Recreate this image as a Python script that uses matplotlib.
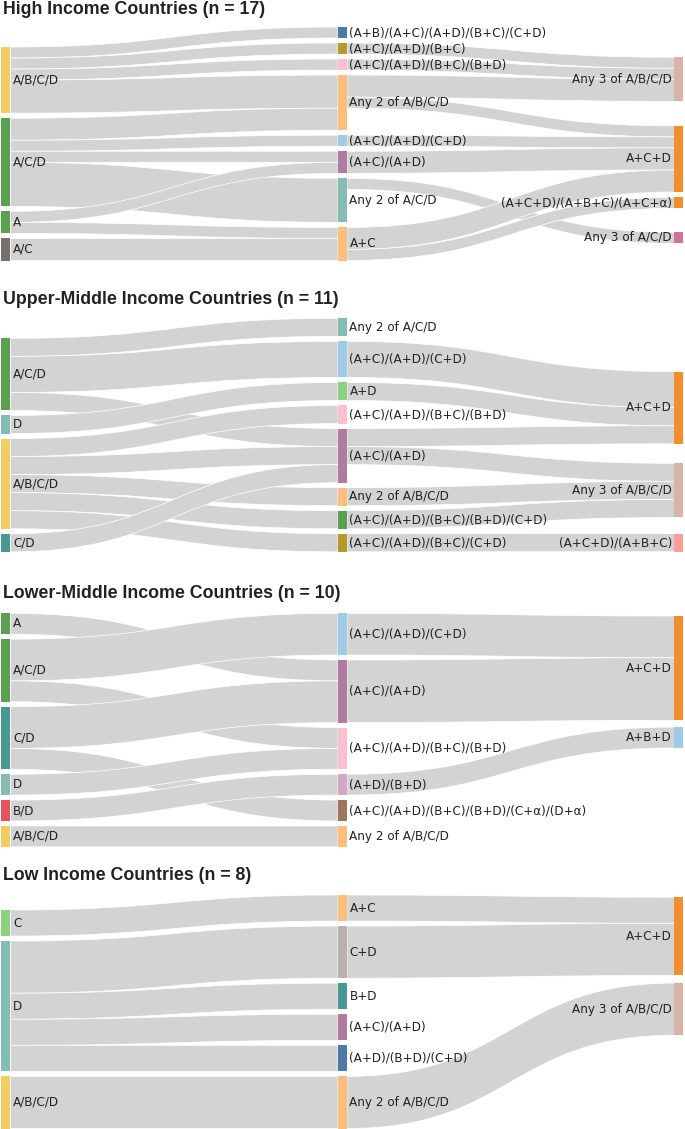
import matplotlib
matplotlib.use("Agg")
import matplotlib.pyplot as plt
from matplotlib.path import Path
from matplotlib.patches import PathPatch, Rectangle

# ------------------------------------------------------------------ data
titles = ["High Income Countries (n = 17)",
          "Upper-Middle Income Countries (n = 11)",
          "Lower-Middle Income Countries (n = 10)",
          "Low Income Countries (n = 8)"]

# --- High income
hi_left = ["A/B/C/D", "A/C/D", "A", "A/C"]
hi_mid = ["(A+B)/(A+C)/(A+D)/(B+C)/(C+D)", "(A+C)/(A+D)/(B+C)",
          "(A+C)/(A+D)/(B+C)/(B+D)", "Any 2 of A/B/C/D", "(A+C)/(A+D)/(C+D)",
          "(A+C)/(A+D)", "Any 2 of A/C/D", "A+C"]
hi_right = ["Any 3 of A/B/C/D", "A+C+D", "(A+C+D)/(A+B+C)/(A+C+α)", "Any 3 of A/C/D"]
hi_lm_src = ["A/B/C/D", "A/B/C/D", "A/B/C/D", "A/B/C/D", "A/C/D", "A/C/D", "A/C/D",
             "A/C/D", "A", "A", "A/C"]
hi_lm_tgt = ["(A+B)/(A+C)/(A+D)/(B+C)/(C+D)", "(A+C)/(A+D)/(B+C)",
             "(A+C)/(A+D)/(B+C)/(B+D)", "Any 2 of A/B/C/D", "Any 2 of A/B/C/D",
             "(A+C)/(A+D)/(C+D)", "(A+C)/(A+D)", "Any 2 of A/C/D", "(A+C)/(A+D)",
             "A+C", "A+C"]
hi_lm_val = [1, 1, 1, 3, 2, 1, 1, 4, 1, 1, 2]
hi_mr_src = ["(A+C)/(A+D)/(B+C)", "(A+C)/(A+D)/(B+C)/(B+D)", "Any 2 of A/B/C/D",
             "Any 2 of A/B/C/D", "(A+C)/(A+D)/(C+D)", "(A+C)/(A+D)", "Any 2 of A/C/D",
             "A+C", "A+C"]
hi_mr_tgt = ["Any 3 of A/B/C/D", "Any 3 of A/B/C/D", "Any 3 of A/B/C/D", "A+C+D",
             "A+C+D", "A+C+D", "Any 3 of A/C/D", "A+C+D", "(A+C+D)/(A+B+C)/(A+C+α)"]
hi_mr_val = [1, 1, 2, 1, 1, 2, 1, 2, 1]

# --- Upper-middle income
um_left = ["A/C/D", "D", "A/B/C/D", "C/D"]
um_mid = ["Any 2 of A/C/D", "(A+C)/(A+D)/(C+D)", "A+D", "(A+C)/(A+D)/(B+C)/(B+D)",
          "(A+C)/(A+D)", "Any 2 of A/B/C/D", "(A+C)/(A+D)/(B+C)/(B+D)/(C+D)",
          "(A+C)/(A+D)/(B+C)/(C+D)"]
um_right = ["A+C+D", "Any 3 of A/B/C/D", "(A+C+D)/(A+B+C)"]
um_lm_src = ["A/C/D", "A/C/D", "A/C/D", "D", "A/B/C/D", "A/B/C/D", "A/B/C/D",
             "A/B/C/D", "A/B/C/D", "C/D"]
um_lm_tgt = ["Any 2 of A/C/D", "(A+C)/(A+D)/(C+D)", "(A+C)/(A+D)", "A+D",
             "(A+C)/(A+D)/(B+C)/(B+D)", "(A+C)/(A+D)", "Any 2 of A/B/C/D",
             "(A+C)/(A+D)/(B+C)/(B+D)/(C+D)", "(A+C)/(A+D)/(B+C)/(C+D)", "(A+C)/(A+D)"]
um_lm_val = [1, 2, 1, 1, 1, 1, 1, 1, 1, 1]
um_mr_src = ["(A+C)/(A+D)/(C+D)", "A+D", "(A+C)/(A+D)", "(A+C)/(A+D)",
             "Any 2 of A/B/C/D", "(A+C)/(A+D)/(B+C)/(B+D)/(C+D)", "(A+C)/(A+D)/(B+C)/(C+D)"]
um_mr_tgt = ["A+C+D", "A+C+D", "A+C+D", "Any 3 of A/B/C/D", "Any 3 of A/B/C/D",
             "Any 3 of A/B/C/D", "(A+C+D)/(A+B+C)"]
um_mr_val = [2, 1, 1, 1, 1, 1, 1]

# --- Lower-middle income
lm_left = ["A", "A/C/D", "C/D", "D", "B/D", "A/B/C/D"]
lm_mid = ["(A+C)/(A+D)/(C+D)", "(A+C)/(A+D)", "(A+C)/(A+D)/(B+C)/(B+D)", "(A+D)/(B+D)",
          "(A+C)/(A+D)/(B+C)/(B+D)/(C+α)/(D+α)", "Any 2 of A/B/C/D"]
lm_right = ["A+C+D", "A+B+D"]
lm_lm_src = ["A", "A/C/D", "A/C/D", "C/D", "C/D", "D", "B/D", "A/B/C/D"]
lm_lm_tgt = ["(A+C)/(A+D)", "(A+C)/(A+D)/(C+D)", "(A+C)/(A+D)/(B+C)/(B+D)", "(A+C)/(A+D)",
             "(A+C)/(A+D)/(B+C)/(B+D)/(C+α)/(D+α)", "(A+C)/(A+D)/(B+C)/(B+D)",
             "(A+D)/(B+D)", "Any 2 of A/B/C/D"]
lm_lm_val = [1, 2, 1, 2, 1, 1, 1, 1]
lm_mr_src = ["(A+C)/(A+D)/(C+D)", "(A+C)/(A+D)", "(A+D)/(B+D)"]
lm_mr_tgt = ["A+C+D", "A+C+D", "A+B+D"]
lm_mr_val = [2, 3, 1]

# --- Low income
lo_left = ["C", "D", "A/B/C/D"]
lo_mid = ["A+C", "C+D", "B+D", "(A+C)/(A+D)", "(A+D)/(B+D)/(C+D)", "Any 2 of A/B/C/D"]
lo_right = ["A+C+D", "Any 3 of A/B/C/D"]
lo_lm_src = ["C", "D", "D", "D", "D", "A/B/C/D"]
lo_lm_tgt = ["A+C", "C+D", "B+D", "(A+C)/(A+D)", "(A+D)/(B+D)/(C+D)", "Any 2 of A/B/C/D"]
lo_lm_val = [1, 2, 1, 1, 1, 2]
lo_mr_src = ["A+C", "C+D", "Any 2 of A/B/C/D"]
lo_mr_tgt = ["A+C+D", "A+C+D", "Any 3 of A/B/C/D"]
lo_mr_val = [1, 2, 2]

# ------------------------------------------------------------------ style
T = {"blue": "#4E79A7", "lblue": "#A0CBE8", "orange": "#F28E2B", "lorange": "#FFBE7D",
     "green": "#59A14F", "lgreen": "#8CD17D", "olive": "#B6992D", "yellow": "#F1CE63",
     "teal": "#499894", "lteal": "#86BCB6", "red": "#E15759", "lred": "#FF9D9A",
     "grey": "#79706E", "lgrey": "#BAB0AC", "pink": "#D37295", "lpink": "#FABFD2",
     "purple": "#B07AA1", "lpurple": "#D4A6C8", "brown": "#9D7660", "lbrown": "#D7B5A6"}

hi_colors = [[T["yellow"], T["green"], T["green"], T["grey"]],
             [T["blue"], T["olive"], T["lpink"], T["lorange"], T["lblue"], T["purple"],
              T["lteal"], T["lorange"]],
             [T["lbrown"], T["orange"], T["orange"], T["pink"]]]
um_colors = [[T["green"], T["lteal"], T["yellow"], T["teal"]],
             [T["lteal"], T["lblue"], T["lgreen"], T["lpink"], T["purple"], T["lorange"],
              T["green"], T["olive"]],
             [T["orange"], T["lbrown"], T["lred"]]]
lm_colors = [[T["green"], T["green"], T["teal"], T["lteal"], T["red"], T["yellow"]],
             [T["lblue"], T["purple"], T["lpink"], T["lpurple"], T["brown"], T["lorange"]],
             [T["orange"], T["lblue"]]]
lo_colors = [[T["lgreen"], T["lteal"], T["yellow"]],
             [T["lorange"], T["lgrey"], T["teal"], T["purple"], T["blue"], T["lorange"]],
             [T["orange"], T["lbrown"]]]

# right-column node centres as fraction of the panel height (fixed arrangement)
hi_right_y = [0.224, 0.565, 0.753, 0.903]
um_right_y = [0.383, 0.737, 0.961]
lm_right_y = [0.235, 0.532]
lo_right_y = [0.177, 0.489]

panel_tops = [27.0, 318.3, 613.3, 895.0]
title_ys = [9.5, 299.0, 593.0, 875.5]
PANEL_H = 233.5
GAP = 5.0
NODE_W = 9.0
COL_X = [1.5, 338.0, 674.5]
LINK_COLOR = "#d3d3d3"
TEXT_COLOR = "#222222"
LABEL_FS = 8.64
TITLE_FS = 12.8

W, HF = 685, 1129
fig = plt.figure(figsize=(W / 100, HF / 100), dpi=100)
ax = fig.add_axes([0, 0, 1, 1])
ax.set_xlim(0, W)
ax.set_ylim(HF, 0)
ax.axis("off")


def draw_panel(top, title_y, title, cols, colors, right_y, lm, mr):
    flows = []
    for s, t, v in zip(*lm):
        flows.append(((0, s), (1, t), v))
    for s, t, v in zip(*mr):
        flows.append(((1, s), (2, t), v))
    vin, vout = {}, {}
    for s, t, v in flows:
        vout[s] = vout.get(s, 0) + v
        vin[t] = vin.get(t, 0) + v
    val = {}
    for c, names in enumerate(cols):
        for n in names:
            val[(c, n)] = max(vin.get((c, n), 0), vout.get((c, n), 0))
    u = min((PANEL_H - (len(names) - 1) * GAP) / sum(val[(c, n)] for n in names)
            for c, names in enumerate(cols))
    y0 = {}
    for c, names in enumerate(cols):
        if c < 2:
            tot = sum(val[(c, n)] * u for n in names) + (len(names) - 1) * GAP
            y = top + PANEL_H - tot
            for n in names:
                y0[(c, n)] = y
                y += val[(c, n)] * u + GAP
        else:
            for n, f in zip(names, right_y):
                y0[(c, n)] = top + f * PANEL_H - val[(c, n)] * u / 2
    # link offsets
    out_off = {k: y0[k] for k in y0}
    in_off = {k: y0[k] for k in y0}
    link_pos = {}
    for k in y0:
        outs = sorted([i for i, f in enumerate(flows) if f[0] == k], key=lambda i: y0[flows[i][1]])
        for i in outs:
            link_pos.setdefault(i, {})["s"] = out_off[k]
            out_off[k] += flows[i][2] * u
        ins = sorted([i for i, f in enumerate(flows) if f[1] == k], key=lambda i: y0[flows[i][0]])
        for i in ins:
            link_pos.setdefault(i, {})["t"] = in_off[k]
            in_off[k] += flows[i][2] * u
    for i, (s, t, v) in enumerate(flows):
        xs = COL_X[s[0]] + NODE_W
        xt = COL_X[t[0]]
        xm = (xs + xt) / 2
        sy, ty = link_pos[i]["s"], link_pos[i]["t"]
        h = v * u
        verts = [(xs, sy), (xm, sy), (xm, ty), (xt, ty), (xt, ty + h),
                 (xm, ty + h), (xm, sy + h), (xs, sy + h), (xs, sy)]
        codes = [Path.MOVETO, Path.CURVE4, Path.CURVE4, Path.CURVE4, Path.LINETO,
                 Path.CURVE4, Path.CURVE4, Path.CURVE4, Path.CLOSEPOLY]
        ax.add_patch(PathPatch(Path(verts, codes), facecolor=LINK_COLOR,
                               edgecolor="white", lw=0.5, zorder=1))
    for c, names in enumerate(cols):
        for n, col in zip(names, colors[c]):
            h = val[(c, n)] * u
            ax.add_patch(Rectangle((COL_X[c], y0[(c, n)]), NODE_W, h, facecolor=col,
                                   edgecolor="none", zorder=3))
            yc = y0[(c, n)] + h / 2
            if c < 2:
                ax.text(COL_X[c] + NODE_W + 2.5, yc, n, ha="left", va="center",
                        fontsize=LABEL_FS, color=TEXT_COLOR, family="DejaVu Sans", zorder=4)
            else:
                ax.text(COL_X[c] - 2.5, yc, n, ha="right", va="center",
                        fontsize=LABEL_FS, color=TEXT_COLOR, family="DejaVu Sans", zorder=4)
    ax.text(3, title_y, title, ha="left", va="center", fontsize=TITLE_FS,
            fontweight="bold", family="Liberation Sans", color=TEXT_COLOR)


panels = [
    ([hi_left, hi_mid, hi_right], hi_colors, hi_right_y,
     (hi_lm_src, hi_lm_tgt, hi_lm_val), (hi_mr_src, hi_mr_tgt, hi_mr_val)),
    ([um_left, um_mid, um_right], um_colors, um_right_y,
     (um_lm_src, um_lm_tgt, um_lm_val), (um_mr_src, um_mr_tgt, um_mr_val)),
    ([lm_left, lm_mid, lm_right], lm_colors, lm_right_y,
     (lm_lm_src, lm_lm_tgt, lm_lm_val), (lm_mr_src, lm_mr_tgt, lm_mr_val)),
    ([lo_left, lo_mid, lo_right], lo_colors, lo_right_y,
     (lo_lm_src, lo_lm_tgt, lo_lm_val), (lo_mr_src, lo_mr_tgt, lo_mr_val)),
]
for (cols, colors, ry, lmf, mrf), top, ty, title in zip(panels, panel_tops, title_ys, titles):
    draw_panel(top, ty, title, cols, colors, ry, lmf, mrf)

fig.savefig("out.png", dpi=100)
